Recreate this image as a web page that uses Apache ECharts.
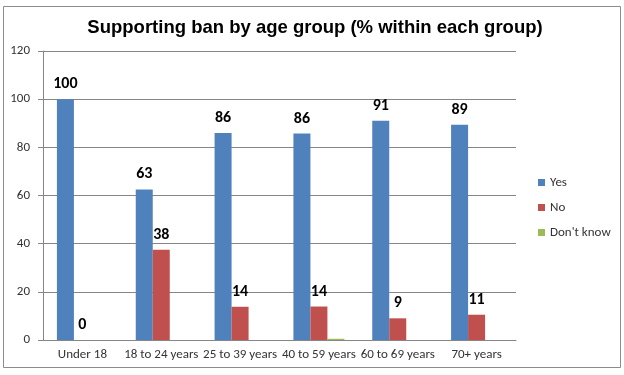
<!DOCTYPE html>
<html><head><meta charset="utf-8">
<script src="https://cdn.jsdelivr.net/npm/echarts@6/dist/echarts.min.js"></script>
<style>html,body{margin:0;padding:0;background:#fff}#c{width:624px;height:375px}</style>
</head><body><div id="c"></div>
<script>
const categories = ["Under 18", "18 to 24 years", "25 to 39 years", "40 to 59 years", "60 to 69 years", "70+ years"];
const yesValues = [100, 62.5, 86, 85.7, 91, 89.4];
const noValues = [0, 37.5, 13.8, 13.9, 9, 10.5];
const dontKnowValues = [0, 0, 0, 0.5, 0, 0];
const yTicks = {min: 0, max: 120, interval: 20};

const chart = echarts.init(document.getElementById('c'));
const labelStyle = {show: true, position: 'top', fontFamily: 'Carlito, Calibri, "Liberation Sans", sans-serif', fontWeight: 'bold', fontSize: 16, color: '#000', distance: 7, formatter: p => Math.round(p.value)};
chart.setOption({
  animation: false,
  title: {text: 'Supporting ban by age group (% within each group)', left: 310, textAlign: 'center', top: 13,
    textStyle: {fontFamily: '"Liberation Sans", Arial, sans-serif', fontWeight: 'bold', fontSize: 18.5, color: '#000'}},
  graphic: [{type: 'rect', shape: {x: 3.5, y: 6.5, width: 617, height: 361}, style: {fill: 'none', stroke: '#8c8c8c', lineWidth: 1}, z: -1}],
  legend: {orient: 'vertical', left: 533, top: 171, itemWidth: 7, itemHeight: 7, itemGap: 12, icon: 'rect',
    textStyle: {fontFamily: 'Carlito, Calibri, "Liberation Sans", sans-serif', fontSize: 13, color: '#333'},
    data: ['Yes', 'No', "Don't know"]},
  grid: {left: 43, right: 108, top: 51, bottom: 35, containLabel: false},
  xAxis: {type: 'category', data: categories,
    axisLine: {lineStyle: {color: '#868686'}}, axisTick: {show: false},
    axisLabel: {interval: 0, margin: 8, fontFamily: 'Carlito, Calibri, "Liberation Sans", sans-serif', fontSize: 13, color: '#333'}},
  yAxis: {type: 'value', min: yTicks.min, max: yTicks.max, interval: yTicks.interval,
    axisLine: {show: true, lineStyle: {color: '#868686'}}, axisTick: {show: true, length: 5, lineStyle: {color: '#868686'}},
    splitLine: {lineStyle: {color: '#868686'}},
    axisLabel: {margin: 13, fontFamily: 'Carlito, Calibri, "Liberation Sans", sans-serif', fontSize: 13, color: '#333'}},
  series: [
    {name: 'Yes', type: 'bar', data: yesValues, barWidth: 17, barGap: '0%', itemStyle: {color: '#4F81BD'}, label: labelStyle},
    {name: 'No', type: 'bar', data: noValues, barWidth: 17, barGap: '0%', itemStyle: {color: '#C0504D'}, label: labelStyle},
    {name: "Don't know", type: 'bar', data: dontKnowValues, barWidth: 17, barGap: '0%', itemStyle: {color: '#9BBB59'}}
  ]
});
</script></body></html>
